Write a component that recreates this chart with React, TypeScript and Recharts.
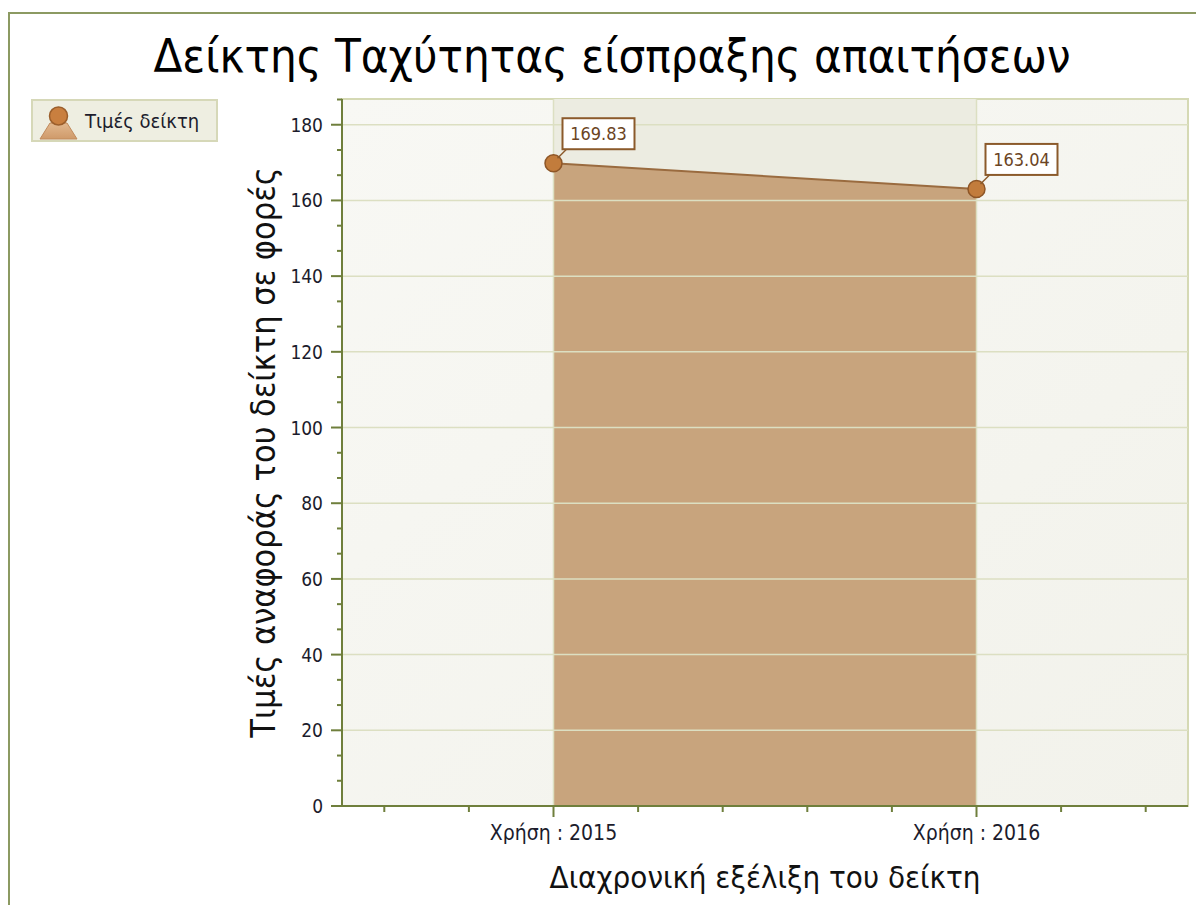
import React from "react";
import { Area, AreaChart, Label, Legend, ReferenceArea, ReferenceLine, XAxis, YAxis } from "recharts";

const FONT = "'DejaVu Sans Condensed', 'DejaVu Sans', sans-serif";

const periods = ["Χρήση : 2015", "Χρήση : 2016"];
const ratioValues = [169.83, 163.04];
const seriesName = "Τιμές δείκτη";
const chartTitle = "Δείκτης Ταχύτητας είσπραξης απαιτήσεων";
const xTitle = "Διαχρονική εξέλιξη του δείκτη";
const yTitle = "Τιμές αναφοράς του δείκτη σε φορές";

const yMajorTicks = [0, 20, 40, 60, 80, 100, 120, 140, 160, 180];
const yMinorTicks = [
  6.67, 13.33, 26.67, 33.33, 46.67, 53.33, 66.67, 73.33, 86.67, 93.33,
  106.67, 113.33, 126.67, 133.33, 146.67, 153.33, 166.67, 173.33, 186.67
];
const yDomain = [0, 186.8];
const xMajorTicks = [0, 1];
const xMinorTicks = [-0.4, -0.2, 0.2, 0.4, 0.6, 0.8, 1.2, 1.4];
const xDomain = [-0.5, 1.5];

const data = periods.map((name, i) => ({ x: i, name, value: ratioValues[i] }));

const AXIS = "#6F7F3C";
const GRID = "#DCDFC2";
const BROWN = "#8B5A2B";

const allXTicks = [...xMajorTicks, ...xMinorTicks].sort((a, b) => a - b);
const allYTicks = [...yMajorTicks, ...yMinorTicks].sort((a, b) => a - b);

function XTick(props: any) {
  const { x, y, payload } = props;
  const v = payload.value;
  const major = xMajorTicks.includes(v);
  return (
    <g>
      <line x1={x} y1={y} x2={x} y2={y + (major ? 11 : 6)} stroke={AXIS} strokeWidth={2} />
      {major && (
        <text x={x} y={y + 34} textAnchor="middle" fontSize={21} fontFamily={FONT} fill="#1c1c2c">
          {periods[v]}
        </text>
      )}
    </g>
  );
}

function YTick(props: any) {
  const { x, y, payload } = props;
  const v = payload.value;
  const major = yMajorTicks.includes(v);
  return (
    <g>
      <line x1={x} y1={y} x2={x - (major ? 11 : 5)} y2={y} stroke={AXIS} strokeWidth={2} />
      {major && (
        <text x={x - 19} y={y + 7} textAnchor="end" fontSize={19} fontFamily={FONT} fill="#1c1c2c">
          {v}
        </text>
      )}
    </g>
  );
}

function ValueLabel(props: any) {
  const x = Number(props.x ?? props.viewBox?.x);
  const y = Number(props.y ?? props.viewBox?.y);
  const text = Number(props.value).toFixed(2);
  const bx = x + 9;
  const by = y - 45;
  return (
    <g>
      <line x1={x + 4} y1={y - 5} x2={bx + 4} y2={by + 31} stroke={BROWN} strokeWidth={1.5} />
      <rect x={bx} y={by} width={72} height={31} fill="#ffffff" stroke={BROWN} strokeWidth={2} />
      <text x={bx + 36} y={by + 22} textAnchor="middle" fontSize={18} fontFamily={FONT} fill="#6B4423">
        {text}
      </text>
    </g>
  );
}

function LegendBox() {
  return (
    <div
      style={{
        width: 183,
        height: 39,
        background: "#EEEEE1",
        border: "2px solid #D6D8B8",
        display: "flex",
        alignItems: "center",
        fontFamily: FONT,
        fontSize: 20,
        color: "#1c1c2c"
      }}
    >
      <svg width={50} height={39}>
        <defs>
          <linearGradient id="legendBody" x1="0" y1="0" x2="0" y2="1">
            <stop offset="0%" stopColor="#E2B88E" />
            <stop offset="100%" stopColor="#CF9A6A" />
          </linearGradient>
        </defs>
        <polygon points="17,22 34,22 44,38 7,38" fill="url(#legendBody)" stroke="#C08A5C" strokeWidth={1} />
        <circle cx={25.5} cy={15} r={9} fill="#C97F3F" stroke="#9B5E2B" strokeWidth={1.5} />
      </svg>
      <span style={{ marginLeft: 2 }}>{seriesName}</span>
    </div>
  );
}

export default function App() {
  return (
    <div style={{ position: "relative", width: 1196, height: 905, background: "#ffffff", overflow: "hidden" }}>
      <style>{"body{margin:0;overflow:hidden}"}</style>
      <div
        style={{
          position: "absolute",
          left: 8,
          top: 12,
          width: 1200,
          height: 900,
          borderLeft: "2px solid #8C9A62",
          borderTop: "2px solid #8C9A62"
        }}
      />
      <svg width={1196} height={100} style={{ position: "absolute", left: 0, top: 0 }}>
        <text x={612} y={72} textAnchor="middle" fontSize={47} fontFamily={FONT} fill="#000000">
          {chartTitle}
        </text>
      </svg>
      <div style={{ position: "absolute", left: 0, top: 0 }}>
        <AreaChart width={1196} height={905} data={data} margin={{ top: 99, right: 8, left: 242, bottom: 14 }}>
          <defs>
            <linearGradient id="plotBg" x1="0" y1="0" x2="1" y2="1">
              <stop offset="0%" stopColor="#F8F8F4" />
              <stop offset="100%" stopColor="#F2F2EB" />
            </linearGradient>
          </defs>
          <ReferenceArea
            x1={xDomain[0]}
            x2={xDomain[1]}
            y1={yDomain[0]}
            y2={yDomain[1]}
            fill="url(#plotBg)"
            fillOpacity={1}
            stroke="#D5D9B4"
            strokeWidth={2}
          />
          <ReferenceArea x1={xMajorTicks[0]} x2={xMajorTicks[1]} y1={yDomain[0]} y2={yDomain[1]} fill="#ECECE1" fillOpacity={1} stroke="none" />
          {yMajorTicks.slice(1).map((v) => (
            <ReferenceLine key={`h${v}`} y={v} stroke={GRID} strokeWidth={1.5} />
          ))}
          {xMajorTicks.map((v) => (
            <ReferenceLine key={`v${v}`} x={v} stroke={GRID} strokeWidth={1.5} />
          ))}
          <XAxis
            type="number"
            dataKey="x"
            domain={xDomain}
            ticks={allXTicks}
            interval={0}
            tickLine={false}
            tickSize={0}
            tickMargin={0}
            tick={<XTick />}
            axisLine={{ stroke: AXIS, strokeWidth: 2 }}
            height={85}
          >
            <Label value={xTitle} position="insideBottom" offset={3} style={{ fontSize: 31, fill: "#111111", fontFamily: FONT }} />
          </XAxis>
          <YAxis
            type="number"
            domain={yDomain}
            ticks={allYTicks}
            interval={0}
            tickLine={false}
            tickSize={0}
            tickMargin={0}
            tick={<YTick />}
            axisLine={{ stroke: AXIS, strokeWidth: 2 }}
            width={100}
          >
            <Label
              value={yTitle}
              angle={-90}
              position="insideLeft"
              offset={21}
              style={{ textAnchor: "middle", fontSize: 34, fill: "#111111", fontFamily: FONT }}
            />
          </YAxis>
          <Legend
            layout="vertical"
            align="center"
            verticalAlign="middle"
            wrapperStyle={{ left: 31, top: 99, width: "auto" }}
            content={() => <LegendBox />}
          />
          <Area
            type="linear"
            dataKey="value"
            name={seriesName}
            stroke="#9A6B3F"
            strokeWidth={2}
            fill="#C8A47D"
            fillOpacity={1}
            dot={{ r: 8.5, fill: "#C27C3C", stroke: "#8E5627", strokeWidth: 1.5, fillOpacity: 1 }}
            activeDot={false}
            label={(p: any) => <ValueLabel {...p} />}
            isAnimationActive={false}
          />
        </AreaChart>
      </div>
    </div>
  );
}
